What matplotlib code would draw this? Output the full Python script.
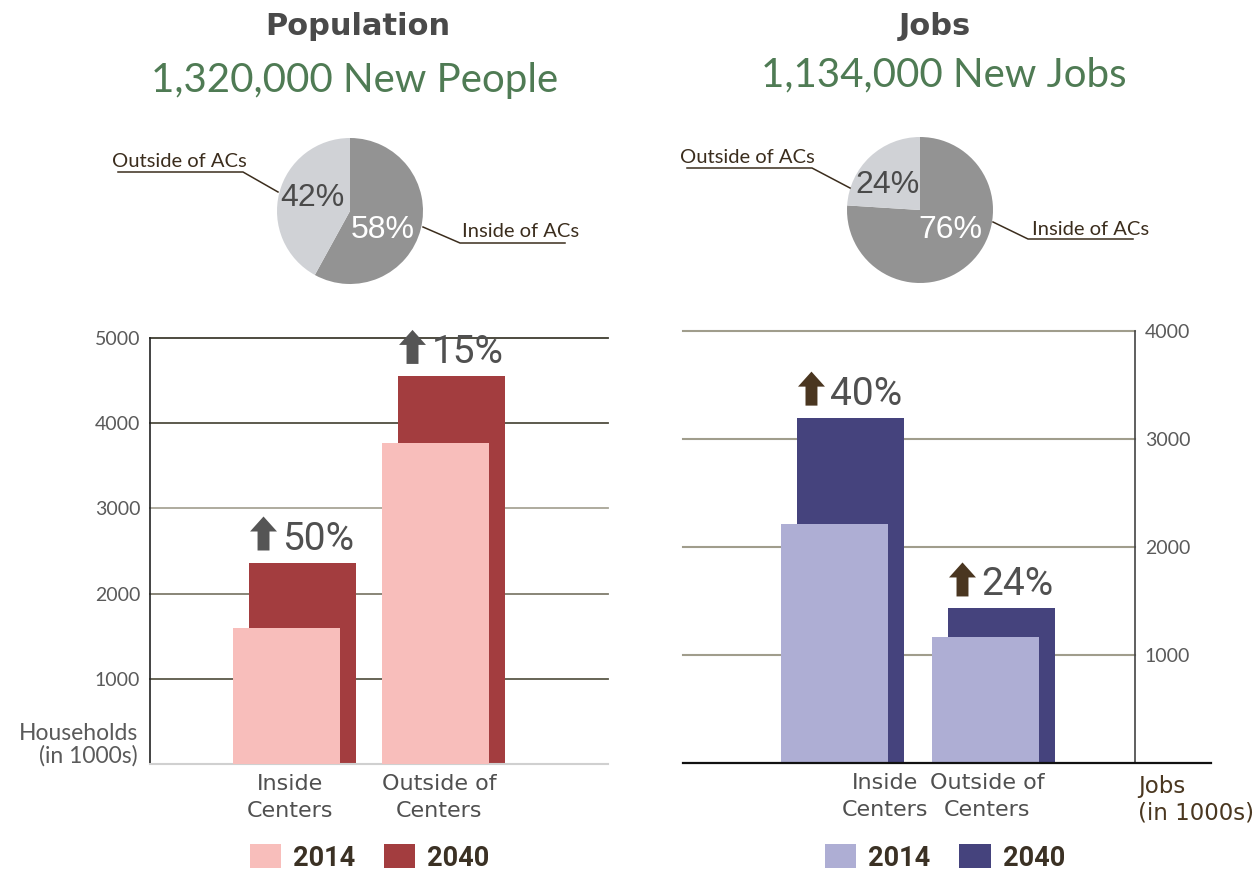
import matplotlib
matplotlib.use('Agg')
import matplotlib.pyplot as plt
import numpy as np
from matplotlib import font_manager
from matplotlib.lines import Line2D
from matplotlib.transforms import offset_copy

# values (thousands)
categories = ['Inside\nCenters', 'Outside of\nCenters']
households_2014 = [1600, 3765]
households_2040 = [2365, 4555]
household_growth = ['50%', '15%']
household_ticks = [1000, 2000, 3000, 4000, 5000]

jobs_2014 = [2215, 1165]
jobs_2040 = [3198, 1431]
job_growth = ['40%', '24%']
job_ticks = [1000, 2000, 3000, 4000]

share_labels = ['Inside of ACs', 'Outside of ACs']
population_share = [58, 42]
job_share = [76, 24]
years = ['2014', '2040']

W, H = 1254, 873

_names = {f.name for f in font_manager.fontManager.ttflist}
NARROW = 'Liberation Sans Narrow' if 'Liberation Sans Narrow' in _names else 'Roboto'

TEXT_GRAY = '#505050'
BROWN = '#3b2d1d'


def fx(x):
    return x / W


def fy(y):
    return 1 - y / H


def fig_line(pts, color=BROWN):
    xs = [fx(p[0]) for p in pts]
    ys = [fy(p[1]) for p in pts]
    fig.add_artist(Line2D(xs, ys, transform=fig.transFigure, color=color, lw=1.1))


fig = plt.figure(figsize=(W / 100, H / 100), dpi=100)

# headings
fig.text(fx(358), fy(35), 'Population', ha='center', va='baseline',
         fontsize=22, weight='bold', color='#4a4a4a')
fig.text(fx(355), fy(92), '1,320,000 New People', ha='center', va='baseline',
         fontsize=29, family='Lato', color='#4f7b54')
fig.text(fx(935), fy(35), 'Jobs', ha='center', va='baseline',
         fontsize=22, weight='bold', color='#4a4a4a')
fig.text(fx(944), fy(86), '1,134,000 New Jobs', ha='center', va='baseline',
         fontsize=29, family='Lato', color='#4f7b54')


def draw_pie(cx, cy, shares, pct_pos):
    ax = fig.add_axes([fx(cx - 73), fy(cy + 73), 146 / W, 146 / H])
    ax.pie(shares, colors=['#939393', '#d0d2d6'], startangle=90,
           counterclock=False, wedgeprops=dict(linewidth=0))
    ax.set_xlim(-1, 1)
    ax.set_ylim(-1, 1)
    ax.set_aspect('equal')
    ax.axis('off')
    for val, pos, col in zip(shares, pct_pos, ['white', '#4a4a4a']):
        ax.text(pos[0], pos[1], f'{val}%', ha='center', va='center',
                fontsize=23, family='Liberation Sans', color=col)
    return ax


draw_pie(350, 211, population_share, [(0.45, -0.26), (-0.51, 0.18)])
draw_pie(920, 210, job_share, [(0.42, -0.27), (-0.44, 0.34)])

# pie call-outs
fig.text(fx(112), fy(167), share_labels[1], fontsize=14.5, family='Lato', color=BROWN)
fig_line([(118, 172), (243, 172), (278, 192)])
fig.text(fx(462), fy(237), share_labels[0], fontsize=14.5, family='Lato', color=BROWN)
fig_line([(423, 227), (460, 243), (565, 243)])
fig.text(fx(680), fy(163), share_labels[1], fontsize=14.5, family='Lato', color=BROWN)
fig_line([(687, 168), (812, 168), (850, 188)])
fig.text(fx(1032), fy(235), share_labels[0], fontsize=14.5, family='Lato', color=BROWN)
fig_line([(993, 222), (1028, 239), (1133, 239)])


def bar_panel(ax, v14, v40, c14, c40, growth, arrow_color, width, offset):
    x = np.arange(len(v14))
    b1 = ax.bar(x - offset, v14, width, color=c14, zorder=3)
    b2 = ax.bar(x + offset, v40, width, color=c40, zorder=2)
    for xi, top, g in zip(x, v40, growth):
        ax.annotate('', xy=(xi, top),
                    xycoords=offset_copy(ax.transData, fig=fig, x=-31, y=46, units='dots'),
                    xytext=(xi, top),
                    textcoords=offset_copy(ax.transData, fig=fig, x=-31, y=12, units='dots'),
                    arrowprops=dict(arrowstyle='simple,head_length=0.54,head_width=0.97,tail_width=0.43',
                                    fc=arrow_color, ec='none', shrinkA=0, shrinkB=0,
                                    mutation_scale=20))
        ax.annotate(g, xy=(xi, top), xytext=(-12, 13), textcoords='offset pixels',
                    ha='left', va='baseline', fontsize=31 if NARROW != 'Roboto' else 28,
                    family=NARROW, color=TEXT_GRAY)
    return b1, b2


# households panel
ax1 = fig.add_axes([fx(150), fy(764), 458 / W, 426 / H])
ax1.set_xlim(-0.970, 2.104)
ax1.set_ylim(0, 5000)
grid_cols = ['#5a5848', '#7f7c6c', '#a8a596', '#4f4d3f', '#3f3d30']
for t, c in zip(household_ticks, grid_cols):
    ax1.axhline(t, color=c, lw=1.3, zorder=1, clip_on=False)
h_bars = bar_panel(ax1, households_2014, households_2040, '#f8bebb', '#a33d3f',
                   household_growth, '#555555', 0.72, 0.054)
ax1.set_yticks(household_ticks)
ax1.set_yticklabels([str(t) for t in household_ticks], family='Lato', fontsize=14,
                    color='#5a5a5a')
ax1.set_xticks(np.arange(len(categories)) - 0.03)
ax1.set_xticklabels(categories, fontsize=16, color=TEXT_GRAY, linespacing=1.45)
ax1.tick_params(axis='y', length=0, pad=7)
ax1.tick_params(axis='x', length=0, pad=7)
for s in ['top', 'right']:
    ax1.spines[s].set_visible(False)
ax1.spines['left'].set_color('#222222')
ax1.spines['left'].set_linewidth(1.2)
ax1.spines['bottom'].set_color('#d0d0d0')
ax1.spines['bottom'].set_linewidth(1.5)
ax1.text(-0.026, -0.005, 'Households\n(in 1000s)', transform=ax1.transAxes,
         ha='right', va='bottom', multialignment='right', family='Lato',
         fontsize=16.5, color='#5a5a5a', linespacing=1.05)

# jobs panel
ax2 = fig.add_axes([fx(683), fy(763), 452 / W, 432 / H])
ax2.set_xlim(-1.056, 1.937)
ax2.set_ylim(0, 4000)
for t in job_ticks:
    ax2.axhline(t, color='#a09d8c', lw=1.5, zorder=1, clip_on=False)
j_bars = bar_panel(ax2, jobs_2014, jobs_2040, '#aeaed4', '#45437d',
                   job_growth, '#4a3620', 0.709, 0.053)
ax2.yaxis.tick_right()
ax2.set_yticks(job_ticks)
ax2.set_yticklabels([str(t) for t in job_ticks], family='Lato', fontsize=14,
                    color='#5a5a5a')
ax2.set_xticks([0.28, 0.96])
ax2.set_xticklabels(categories, fontsize=16, color=TEXT_GRAY, linespacing=1.45)
ax2.tick_params(axis='y', length=0, pad=7)
ax2.tick_params(axis='x', length=0, pad=7)
for s in ['top', 'left', 'bottom']:
    ax2.spines[s].set_visible(False)
ax2.spines['right'].set_color('#444444')
ax2.spines['right'].set_linewidth(1.2)
ax2.plot([0, (1211 - 683) / 452], [0, 0], transform=ax2.transAxes, color='#111111',
         lw=1.6, clip_on=False, zorder=4)
ax2.text(1.007, -0.028, 'Jobs\n(in 1000s)', transform=ax2.transAxes, ha='left', va='top',
         fontsize=16.5, color='#4a3720', linespacing=1.2)

# legends
leg_kw = dict(ncol=2, loc='center', frameon=False, borderpad=0,
              handlelength=1.15, handleheight=0.96, handletextpad=0.44,
              columnspacing=1.07, labelcolor='#3b3124',
              prop=dict(family='Roboto', weight='bold', size=19.5))
fig.legend(h_bars, years, bbox_to_anchor=(fx(369.5), fy(858)), **leg_kw)
fig.legend(j_bars, years, bbox_to_anchor=(fx(945), fy(858)), **leg_kw)

fig.savefig('out.png', dpi=100)
